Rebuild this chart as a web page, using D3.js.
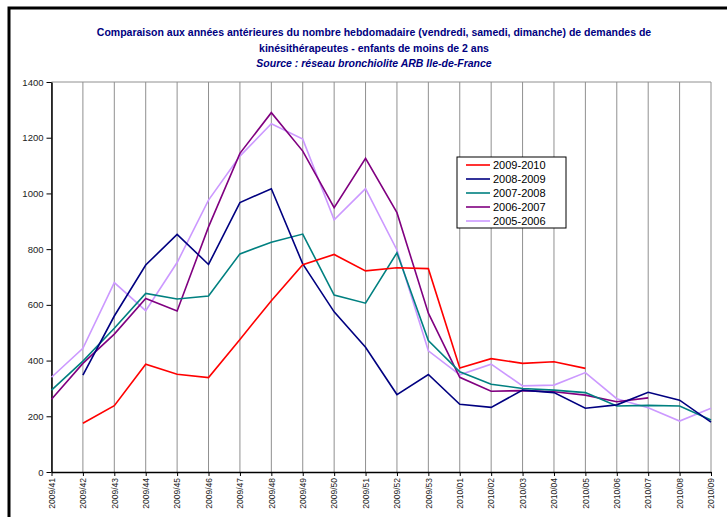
<!DOCTYPE html>
<meta charset="utf-8">
<style>
body { margin: 0; background: #fff; }
svg { font-family: "Liberation Sans", Arial, sans-serif; }
</style>
<svg width="727" height="517"></svg>
<script src="https://d3js.org/d3.v7.min.js"></script>
<script>

var weeks = ["2009/41", "2009/42", "2009/43", "2009/44", "2009/45", "2009/46", "2009/47",
  "2009/48", "2009/49", "2009/50", "2009/51", "2009/52", "2009/53", "2010/01", "2010/02",
  "2010/03", "2010/04", "2010/05", "2010/06", "2010/07", "2010/08", "2010/09"];

var s0910 = [null, 175, 238, 387, 351, 339, 476, 615, 744, 781, 722, 733, 730, 373, 407, 390, 396, 372, null, null, null, null];
var s0809 = [null, 348, 560, 743, 853, 745, 967, 1017, 747, 575, 448, 278, 350, 243, 232, 294, 285, 229, 241, 286, 258, 179];
var s0708 = [294, 398, 516, 641, 621, 632, 783, 825, 854, 635, 606, 787, 472, 360, 315, 300, 294, 285, 237, 239, 237, 187];
var s0607 = [261, 390, 495, 623, 578, 880, 1144, 1290, 1152, 949, 1126, 931, 570, 340, 290, 292, 288, 276, 252, 266, null, null];
var s0506 = [340, 444, 680, 579, 752, 976, 1134, 1250, 1195, 905, 1017, 797, 435, 349, 387, 309, 312, 357, 263, 231, 183, 229];

var seasons = ["2009-2010", "2008-2009", "2007-2008", "2006-2007", "2005-2006"];
var yTicks = [0, 200, 400, 600, 800, 1000, 1200, 1400];

var series = [
  {name: seasons[0], values: s0910, color: "#ff0000"},
  {name: seasons[1], values: s0809, color: "#000080"},
  {name: seasons[2], values: s0708, color: "#008080"},
  {name: seasons[3], values: s0607, color: "#800080"},
  {name: seasons[4], values: s0506, color: "#cc99ff"}
];

var svg = d3.select("svg");

// outer frame (cut by the window on right and bottom)
svg.append("rect")
    .attr("x", 9).attr("y", 8)
    .attr("width", 760).attr("height", 560)
    .attr("fill", "none")
    .attr("stroke", "#000")
    .attr("stroke-width", 3);

var x = d3.scalePoint()
    .domain(weeks)
    .range([51.5, 711]);

var y = d3.scaleLinear()
    .domain([0, 1400])
    .range([472, 82]);

// title
var title = svg.append("g")
    .attr("text-anchor", "middle")
    .attr("fill", "#000080")
    .attr("font-weight", "bold")
    .attr("font-size", 10.5);

title.append("text").attr("x", 374).attr("y", 36)
    .text("Comparaison aux années antérieures du nombre hebdomadaire (vendredi, samedi, dimanche) de demandes de");
title.append("text").attr("x", 374).attr("y", 52)
    .text("kinésithérapeutes - enfants de moins de 2 ans");
title.append("text").attr("x", 374).attr("y", 67)
    .attr("font-style", "italic")
    .text("Source : réseau bronchiolite ARB Ile-de-France");

// grid
svg.append("g")
  .selectAll("line")
  .data(weeks)
  .enter().append("line")
    .attr("x1", function(d) { return x(d); })
    .attr("x2", function(d) { return x(d); })
    .attr("y1", y(1400))
    .attr("y2", y(0))
    .attr("stroke", "#909090")
    .attr("stroke-width", 1);

svg.append("line")
    .attr("x1", x.range()[0]).attr("x2", x.range()[1])
    .attr("y1", y(1400)).attr("y2", y(1400))
    .attr("stroke", "#909090");

// axes
var yAxis = svg.append("g")
    .attr("transform", "translate(" + x.range()[0] + ",0)")
    .call(d3.axisLeft(y).tickValues(yTicks).tickFormat(d3.format("d"))
      .tickSize(5).tickSizeOuter(0).tickPadding(3));

var xAxis = svg.append("g")
    .attr("transform", "translate(0," + y(0) + ")")
    .call(d3.axisBottom(x).tickSize(4).tickSizeOuter(0));

xAxis.selectAll("text")
    .attr("transform", "rotate(-90)")
    .attr("text-anchor", "end")
    .attr("x", -6)
    .attr("y", 0)
    .attr("dy", "0.32em")
    .attr("font-size", 8.5);

yAxis.selectAll("text").attr("font-size", 9.5).attr("fill", "#222");
xAxis.selectAll("text").attr("fill", "#222");
svg.selectAll(".domain").attr("stroke", "#000").attr("stroke-width", 1.5);
svg.selectAll(".tick line").attr("stroke", "#000");

// lines
var line = d3.line()
    .defined(function(d) { return d != null; })
    .x(function(d, i) { return x(weeks[i]); })
    .y(function(d) { return y(d); });

svg.append("g")
  .selectAll("path")
  .data(series.slice().reverse())
  .enter().append("path")
    .attr("fill", "none")
    .attr("stroke", function(d) { return d.color; })
    .attr("stroke-width", 1.6)
    .attr("d", function(d) { return line(d.values); });

// legend
var legend = svg.append("g")
    .attr("transform", "translate(457,157)");

legend.append("rect")
    .attr("width", 109).attr("height", 71)
    .attr("fill", "#fff")
    .attr("stroke", "#000")
    .attr("stroke-width", 1);

var item = legend.selectAll("g.item")
  .data(series)
  .enter().append("g")
    .attr("class", "item")
    .attr("transform", function(d, i) { return "translate(0," + (8 + i * 14) + ")"; });

item.append("line")
    .attr("x1", 9).attr("x2", 33)
    .attr("stroke", function(d) { return d.color; })
    .attr("stroke-width", 1.6);

item.append("text")
    .attr("x", 36)
    .attr("dy", "0.35em")
    .attr("font-size", 11)
    .attr("fill", "#000")
    .text(function(d) { return d.name; });

</script>
